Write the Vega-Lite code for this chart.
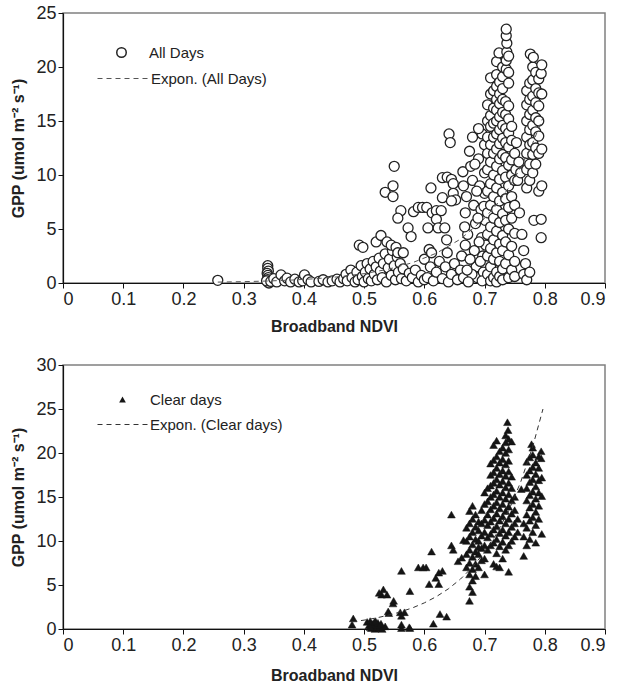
{
"$schema": "https://vega.github.io/schema/vega-lite/v6.json",
"padding": {"left": 10, "top": 3, "right": 0, "bottom": 2},
"config": {
  "font": "Liberation Sans",
  "view": {"stroke": "#808080", "strokeWidth": 1.5},
  "axis": {"grid": false, "domainColor": "#111", "domainWidth": 1.2, "tickColor": "#111", "tickSize": 5, "labelFontSize": 18, "labelColor": "#222", "titleFontSize": 16, "titleFontWeight": "bold", "titleColor": "#222", "labelPadding": 2},
  "legend": {"labelFontSize": 15, "labelColor": "#222", "title": null, "orient": "none", "padding": 0}
},
"datasets": {
  "all": [
{"n":0.257,"g":0.25},{"n":0.34,"g":1.6},{"n":0.34,"g":1.35},{"n":0.341,"g":1.1},{"n":0.339,"g":0.9},{"n":0.34,"g":0.7},{"n":0.341,"g":0.5},{"n":0.34,"g":0.3},{"n":0.34,"g":0.1},{"n":0.342,"g":0},{"n":0.338,"g":0.2},{"n":0.345,"g":0.15},{"n":0.35,"g":0.4},{"n":0.355,"g":0.1},{"n":0.362,"g":0.75},{"n":0.368,"g":0.2},{"n":0.372,"g":0.45},{"n":0.378,"g":0.1},{"n":0.385,"g":0.35},{"n":0.392,"g":0.1},{"n":0.398,"g":0.2},{"n":0.401,"g":0.75},{"n":0.407,"g":0.3},{"n":0.412,"g":0.1},{"n":0.425,"g":0.15},{"n":0.432,"g":0.3},{"n":0.44,"g":0.1},{"n":0.447,"g":0.2},{"n":0.455,"g":0.35},{"n":0.46,"g":0.1},{"n":0.466,"g":0.4},
{"n":0.47,"g":0.8},{"n":0.472,"g":0.2},{"n":0.478,"g":1.2},{"n":0.48,"g":0.5},{"n":0.485,"g":0.1},{"n":0.488,"g":1.0},{"n":0.49,"g":0.3},{"n":0.495,"g":1.6},{"n":0.497,"g":0.6},{"n":0.5,"g":0.1},{"n":0.502,"g":1.0},{"n":0.505,"g":1.8},{"n":0.507,"g":0.4},{"n":0.51,"g":1.3},{"n":0.512,"g":0.2},{"n":0.515,"g":2.0},{"n":0.517,"g":0.8},{"n":0.52,"g":1.5},{"n":0.522,"g":0.3},{"n":0.525,"g":2.3},{"n":0.527,"g":1.1},{"n":0.53,"g":0.5},{"n":0.532,"g":1.8},{"n":0.535,"g":2.7},{"n":0.537,"g":0.1},{"n":0.54,"g":1.4},{"n":0.542,"g":2.2},{"n":0.545,"g":0.7},{"n":0.547,"g":3.0},{"n":0.55,"g":1.6},{"n":0.552,"g":0.3},{"n":0.555,"g":2.4},{"n":0.557,"g":1.0},{"n":0.56,"g":1.8},{"n":0.562,"g":0.4},{"n":0.565,"g":1.3},{"n":0.57,"g":0.2},{"n":0.575,"g":0.9},{"n":0.58,"g":0.5},{"n":0.585,"g":1.2},{"n":0.59,"g":0.1},{"n":0.595,"g":0.7},{"n":0.6,"g":2.2},{"n":0.6,"g":0.3},
{"n":0.492,"g":3.5},{"n":0.498,"g":3.3},{"n":0.52,"g":3.8},{"n":0.528,"g":4.4},{"n":0.538,"g":3.8},{"n":0.545,"g":3.5},{"n":0.553,"g":3.3},{"n":0.556,"g":2.8},{"n":0.565,"g":2.8},{"n":0.55,"g":10.8},{"n":0.548,"g":9.0},{"n":0.535,"g":8.4},{"n":0.548,"g":8.0},{"n":0.561,"g":6.7},{"n":0.556,"g":6.0},{"n":0.573,"g":5.1},{"n":0.578,"g":4.3},{"n":0.582,"g":6.6},{"n":0.59,"g":7.0},{"n":0.597,"g":7.0},{"n":0.604,"g":7.0},{"n":0.611,"g":8.8},{"n":0.613,"g":6.5},{"n":0.62,"g":6.7},{"n":0.628,"g":6.7},{"n":0.62,"g":5.9},{"n":0.606,"g":5.1},{"n":0.623,"g":5.1},{"n":0.634,"g":5.1},{"n":0.637,"g":4.0},{"n":0.608,"g":3.1},{"n":0.638,"g":2.8},{"n":0.63,"g":7.9},{"n":0.63,"g":9.75},{"n":0.638,"g":9.8},{"n":0.645,"g":9.6},{"n":0.648,"g":9.2},{"n":0.648,"g":8.3},{"n":0.652,"g":7.7},{"n":0.645,"g":7.6},{"n":0.664,"g":10.3},{"n":0.641,"g":13.8},{"n":0.643,"g":13.0},
{"n":0.605,"g":0.5},{"n":0.61,"g":1.5},{"n":0.615,"g":0.2},{"n":0.62,"g":1.0},{"n":0.625,"g":2.0},{"n":0.63,"g":0.4},{"n":0.635,"g":1.5},{"n":0.64,"g":0.1},{"n":0.645,"g":0.8},{"n":0.65,"g":1.8},{"n":0.655,"g":0.3},{"n":0.66,"g":1.2},{"n":0.662,"g":2.5},{"n":0.665,"g":0.5},{"n":0.668,"g":3.5},{"n":0.612,"g":2.8},
{"n":0.668,"g":6.5},{"n":0.67,"g":8.0},{"n":0.672,"g":4.5},{"n":0.675,"g":12.2},{"n":0.68,"g":13.5},{"n":0.677,"g":10.8},{"n":0.68,"g":9.5},{"n":0.682,"g":7.2},{"n":0.685,"g":5.5},{"n":0.683,"g":3.0},{"n":0.686,"g":1.5},{"n":0.688,"g":0.5},{"n":0.69,"g":11.5},{"n":0.692,"g":9.0},{"n":0.694,"g":6.8},{"n":0.695,"g":4.2},{"n":0.697,"g":2.5},{"n":0.698,"g":1.0},{"n":0.7,"g":12.8},{"n":0.7,"g":10.2},{"n":0.7,"g":8.3},{"n":0.701,"g":5.8},{"n":0.702,"g":3.5},{"n":0.703,"g":0.3},{"n":0.676,"g":2.2},{"n":0.679,"g":0.8},{"n":0.684,"g":11.0},{"n":0.687,"g":8.5},{"n":0.689,"g":6.0},{"n":0.691,"g":3.8},{"n":0.693,"g":2.0},{"n":0.696,"g":0.2},{"n":0.671,"g":1.2},{"n":0.673,"g":0.1},{"n":0.665,"g":9.0},{"n":0.667,"g":5.2},{"n":0.696,"g":13.8},{"n":0.699,"g":7.1},{"n":0.69,"g":14.3},{"n":0.705,"g":15.0},
{"n":0.705,"g":0.8},{"n":0.705,"g":2.5},{"n":0.705,"g":4.5},{"n":0.705,"g":6.5},{"n":0.705,"g":8.5},{"n":0.705,"g":10.5},{"n":0.705,"g":12.0},{"n":0.705,"g":13.5},{"n":0.705,"g":16.5},
{"n":0.71,"g":0.2},{"n":0.71,"g":1.5},{"n":0.71,"g":3.2},{"n":0.71,"g":5.2},{"n":0.71,"g":7.2},{"n":0.71,"g":9.2},{"n":0.71,"g":11.2},{"n":0.71,"g":12.8},{"n":0.71,"g":14.5},{"n":0.71,"g":15.5},{"n":0.71,"g":17.5},{"n":0.71,"g":19.0},
{"n":0.715,"g":0.5},{"n":0.715,"g":2.2},{"n":0.715,"g":4.0},{"n":0.715,"g":6.0},{"n":0.715,"g":8.0},{"n":0.715,"g":10.0},{"n":0.715,"g":12.0},{"n":0.715,"g":13.5},{"n":0.715,"g":14.8},{"n":0.715,"g":16.2},{"n":0.715,"g":17.8},
{"n":0.72,"g":0.1},{"n":0.72,"g":1.0},{"n":0.72,"g":2.8},{"n":0.72,"g":4.8},{"n":0.72,"g":6.8},{"n":0.72,"g":8.8},{"n":0.72,"g":10.8},{"n":0.72,"g":12.4},{"n":0.72,"g":13.8},{"n":0.72,"g":15.0},{"n":0.72,"g":16.0},{"n":0.72,"g":17.0},{"n":0.72,"g":18.2},{"n":0.72,"g":19.3},{"n":0.72,"g":20.5},{"n":0.724,"g":21.3},
{"n":0.725,"g":0.6},{"n":0.725,"g":2.0},{"n":0.725,"g":3.6},{"n":0.725,"g":5.6},{"n":0.725,"g":7.6},{"n":0.725,"g":9.6},{"n":0.725,"g":11.5},{"n":0.725,"g":12.9},{"n":0.725,"g":14.2},{"n":0.725,"g":15.4},{"n":0.725,"g":16.6},{"n":0.725,"g":17.5},{"n":0.725,"g":18.6},
{"n":0.73,"g":0.3},{"n":0.73,"g":1.3},{"n":0.73,"g":3.0},{"n":0.73,"g":4.4},{"n":0.73,"g":6.4},{"n":0.73,"g":8.4},{"n":0.73,"g":10.4},{"n":0.73,"g":11.9},{"n":0.73,"g":13.4},{"n":0.73,"g":14.6},{"n":0.73,"g":15.8},{"n":0.73,"g":17.0},{"n":0.73,"g":18.0},{"n":0.73,"g":19.1},{"n":0.73,"g":20.0},
{"n":0.735,"g":1.8},{"n":0.735,"g":3.8},{"n":0.735,"g":5.8},{"n":0.735,"g":7.8},{"n":0.735,"g":9.8},{"n":0.735,"g":11.6},{"n":0.735,"g":13.0},{"n":0.735,"g":14.3},{"n":0.735,"g":15.6},{"n":0.735,"g":16.8},{"n":0.736,"g":19.8},{"n":0.736,"g":20.6},{"n":0.737,"g":21.4},{"n":0.737,"g":22.2},{"n":0.736,"g":22.9},{"n":0.736,"g":23.5},
{"n":0.74,"g":0.5},{"n":0.74,"g":2.6},{"n":0.74,"g":5.0},{"n":0.74,"g":7.0},{"n":0.74,"g":9.0},{"n":0.74,"g":10.9},{"n":0.74,"g":12.6},{"n":0.74,"g":13.9},{"n":0.74,"g":15.2},{"n":0.74,"g":16.4},{"n":0.74,"g":18.5},{"n":0.74,"g":19.5},{"n":0.74,"g":21.0},
{"n":0.745,"g":1.2},{"n":0.745,"g":3.4},{"n":0.745,"g":6.0},{"n":0.745,"g":8.0},{"n":0.745,"g":10.0},{"n":0.745,"g":11.4},{"n":0.745,"g":13.2},{"n":0.745,"g":14.5},
{"n":0.75,"g":0.6},{"n":0.75,"g":2.0},{"n":0.75,"g":4.6},{"n":0.75,"g":7.2},{"n":0.75,"g":9.5},{"n":0.75,"g":12.0},
{"n":0.752,"g":10.5},{"n":0.755,"g":9.5},{"n":0.76,"g":10.2},{"n":0.758,"g":6.5},{"n":0.762,"g":4.5},{"n":0.765,"g":3.0},{"n":0.768,"g":1.8},{"n":0.765,"g":0.8},{"n":0.77,"g":0.3},{"n":0.775,"g":1.0},{"n":0.753,"g":13.0},{"n":0.757,"g":11.2},
{"n":0.77,"g":8.8},{"n":0.77,"g":10.5},{"n":0.77,"g":12.0},{"n":0.77,"g":13.5},{"n":0.77,"g":15.0},{"n":0.77,"g":16.5},{"n":0.77,"g":17.8},
{"n":0.775,"g":9.5},{"n":0.775,"g":11.0},{"n":0.775,"g":12.8},{"n":0.775,"g":14.2},{"n":0.775,"g":15.6},{"n":0.775,"g":17.0},{"n":0.775,"g":18.5},{"n":0.776,"g":21.2},
{"n":0.78,"g":10.2},{"n":0.78,"g":11.9},{"n":0.78,"g":13.0},{"n":0.78,"g":14.6},{"n":0.78,"g":16.0},{"n":0.78,"g":17.3},{"n":0.78,"g":18.8},{"n":0.78,"g":20.0},{"n":0.781,"g":20.9},{"n":0.782,"g":5.8},
{"n":0.785,"g":11.0},{"n":0.785,"g":12.5},{"n":0.785,"g":14.0},{"n":0.785,"g":15.3},{"n":0.785,"g":16.7},{"n":0.785,"g":18.0},{"n":0.785,"g":19.5},
{"n":0.79,"g":12.0},{"n":0.79,"g":13.6},{"n":0.79,"g":15.0},{"n":0.79,"g":16.4},{"n":0.79,"g":17.6},{"n":0.79,"g":18.9},{"n":0.79,"g":8.5},
{"n":0.795,"g":9.0},{"n":0.795,"g":12.4},{"n":0.795,"g":17.5},{"n":0.794,"g":19.4},{"n":0.795,"g":20.2},{"n":0.794,"g":5.9},{"n":0.794,"g":4.2}
  ],
  "allfit": [
{"n":0.257,"g":0.083},{"n":0.30,"g":0.125},{"n":0.34,"g":0.184},{"n":0.38,"g":0.271},{"n":0.42,"g":0.399},{"n":0.46,"g":0.587},{"n":0.50,"g":0.865},{"n":0.54,"g":1.273},{"n":0.58,"g":1.875},{"n":0.62,"g":2.759},{"n":0.66,"g":4.061},{"n":0.70,"g":5.981},{"n":0.72,"g":7.26},{"n":0.74,"g":8.80},{"n":0.76,"g":10.68},{"n":0.78,"g":12.96},{"n":0.797,"g":15.3}
  ],
  "clear": [
{"n":0.482,"g":1.2},{"n":0.48,"g":0.5},{"n":0.505,"g":0.8},{"n":0.508,"g":0.4},{"n":0.51,"g":0.9},{"n":0.512,"g":0.1},{"n":0.513,"g":0.6},{"n":0.515,"g":0.3},{"n":0.517,"g":0.8},{"n":0.518,"g":0.0},{"n":0.52,"g":0.5},{"n":0.522,"g":0.2},{"n":0.523,"g":0.7},{"n":0.525,"g":0.1},{"n":0.527,"g":0.4},{"n":0.53,"g":0.0},{"n":0.51,"g":0.2},{"n":0.519,"g":0.9},{"n":0.528,"g":0.6},{"n":0.535,"g":0.3},{"n":0.532,"g":4.5},{"n":0.529,"g":3.9},{"n":0.538,"g":3.9},{"n":0.525,"g":4.1},{"n":0.548,"g":2.9},{"n":0.541,"g":1.8},{"n":0.549,"g":3.2},{"n":0.54,"g":2.0},{"n":0.56,"g":1.9},{"n":0.567,"g":1.9},{"n":0.562,"g":1.5},{"n":0.562,"g":6.6},{"n":0.576,"g":4.3},{"n":0.576,"g":0.1},{"n":0.562,"g":0.1},{"n":0.562,"g":0.5},{"n":0.575,"g":0.2},{"n":0.59,"g":7.0},{"n":0.598,"g":7.0},{"n":0.603,"g":7.0},{"n":0.612,"g":8.8},{"n":0.608,"g":5.1},{"n":0.624,"g":5.1},{"n":0.619,"g":5.8},{"n":0.624,"g":6.4},{"n":0.63,"g":6.6},{"n":0.626,"g":1.7},{"n":0.637,"g":1.4},{"n":0.615,"g":0.6},{"n":0.645,"g":13.0},{"n":0.645,"g":9.5},{"n":0.648,"g":9.0},{"n":0.665,"g":10.1},{"n":0.656,"g":7.7},{"n":0.662,"g":8.1},
{"n":0.67,"g":7.0},{"n":0.67,"g":8.5},{"n":0.67,"g":10.0},{"n":0.67,"g":11.5},
{"n":0.675,"g":3.2},{"n":0.675,"g":4.8},{"n":0.675,"g":6.2},{"n":0.675,"g":7.5},{"n":0.675,"g":9.0},{"n":0.675,"g":10.5},{"n":0.675,"g":12.0},{"n":0.675,"g":13.4},
{"n":0.68,"g":4.2},{"n":0.68,"g":5.5},{"n":0.68,"g":6.8},{"n":0.68,"g":8.2},{"n":0.68,"g":9.6},{"n":0.68,"g":11.0},{"n":0.68,"g":12.5},{"n":0.68,"g":14.0},
{"n":0.685,"g":6.0},{"n":0.685,"g":7.4},{"n":0.685,"g":8.8},{"n":0.685,"g":10.2},{"n":0.685,"g":11.6},{"n":0.685,"g":13.0},
{"n":0.69,"g":7.0},{"n":0.69,"g":8.5},{"n":0.69,"g":10.0},{"n":0.69,"g":11.2},{"n":0.69,"g":12.2},{"n":0.69,"g":9.3},
{"n":0.695,"g":7.8},{"n":0.695,"g":9.2},{"n":0.695,"g":10.6},{"n":0.695,"g":12.0},{"n":0.695,"g":13.5},
{"n":0.70,"g":6.2},{"n":0.70,"g":8.0},{"n":0.70,"g":9.5},{"n":0.70,"g":11.0},{"n":0.70,"g":12.4},{"n":0.70,"g":14.2},{"n":0.70,"g":15.5},
{"n":0.705,"g":9.0},{"n":0.705,"g":10.4},{"n":0.705,"g":11.8},{"n":0.705,"g":13.0},{"n":0.705,"g":14.5},{"n":0.705,"g":16.0},
{"n":0.71,"g":9.5},{"n":0.71,"g":10.8},{"n":0.71,"g":12.2},{"n":0.71,"g":13.6},{"n":0.71,"g":15.0},{"n":0.71,"g":16.3},{"n":0.71,"g":17.5},{"n":0.71,"g":18.8},
{"n":0.715,"g":7.4},{"n":0.715,"g":9.8},{"n":0.715,"g":11.3},{"n":0.715,"g":12.6},{"n":0.715,"g":14.0},{"n":0.715,"g":15.3},{"n":0.715,"g":16.6},{"n":0.715,"g":17.8},{"n":0.715,"g":19.2},{"n":0.715,"g":20.9},
{"n":0.72,"g":7.1},{"n":0.72,"g":8.6},{"n":0.72,"g":10.2},{"n":0.72,"g":11.7},{"n":0.72,"g":13.1},{"n":0.72,"g":14.4},{"n":0.72,"g":15.7},{"n":0.72,"g":17.0},{"n":0.72,"g":18.3},{"n":0.72,"g":19.6},{"n":0.72,"g":21.4},
{"n":0.725,"g":7.0},{"n":0.725,"g":9.4},{"n":0.725,"g":10.9},{"n":0.725,"g":12.3},{"n":0.725,"g":13.7},{"n":0.725,"g":15.0},{"n":0.725,"g":16.4},{"n":0.725,"g":17.6},{"n":0.725,"g":18.9},{"n":0.725,"g":20.2},
{"n":0.73,"g":8.0},{"n":0.73,"g":9.9},{"n":0.73,"g":11.3},{"n":0.73,"g":12.8},{"n":0.73,"g":14.2},{"n":0.73,"g":15.5},{"n":0.73,"g":16.8},{"n":0.73,"g":18.0},{"n":0.73,"g":19.3},{"n":0.73,"g":20.6},
{"n":0.735,"g":9.0},{"n":0.735,"g":10.6},{"n":0.735,"g":12.0},{"n":0.735,"g":13.4},{"n":0.735,"g":14.8},{"n":0.735,"g":16.1},{"n":0.735,"g":17.4},{"n":0.735,"g":18.7},{"n":0.735,"g":20.0},{"n":0.735,"g":21.2},{"n":0.735,"g":22.0},
{"n":0.738,"g":23.5},{"n":0.739,"g":22.6},{"n":0.74,"g":21.6},
{"n":0.74,"g":6.5},{"n":0.74,"g":9.5},{"n":0.74,"g":11.0},{"n":0.74,"g":12.5},{"n":0.74,"g":13.9},{"n":0.74,"g":15.3},{"n":0.74,"g":16.6},{"n":0.74,"g":17.9},{"n":0.74,"g":19.1},{"n":0.74,"g":20.4},
{"n":0.745,"g":10.0},{"n":0.745,"g":11.6},{"n":0.745,"g":13.1},{"n":0.745,"g":14.6},{"n":0.745,"g":16.0},{"n":0.745,"g":17.3},{"n":0.745,"g":21.3},
{"n":0.75,"g":10.5},{"n":0.75,"g":12.0},{"n":0.75,"g":13.5},{"n":0.75,"g":15.0},{"n":0.755,"g":11.0},{"n":0.755,"g":12.5},{"n":0.761,"g":15.9},
{"n":0.765,"g":8.3},{"n":0.765,"g":10.5},{"n":0.765,"g":12.0},
{"n":0.77,"g":9.5},{"n":0.77,"g":11.5},{"n":0.77,"g":13.0},{"n":0.77,"g":14.6},{"n":0.77,"g":16.0},{"n":0.77,"g":17.5},{"n":0.77,"g":19.0},
{"n":0.775,"g":10.2},{"n":0.775,"g":12.3},{"n":0.775,"g":13.8},{"n":0.775,"g":15.2},{"n":0.775,"g":16.7},{"n":0.775,"g":18.0},{"n":0.775,"g":19.5},{"n":0.778,"g":21.0},
{"n":0.78,"g":11.0},{"n":0.78,"g":12.7},{"n":0.78,"g":14.2},{"n":0.78,"g":15.6},{"n":0.78,"g":17.0},{"n":0.78,"g":18.4},{"n":0.78,"g":19.8},{"n":0.78,"g":20.6},
{"n":0.785,"g":9.8},{"n":0.785,"g":11.8},{"n":0.785,"g":13.3},{"n":0.785,"g":14.8},{"n":0.785,"g":16.2},{"n":0.785,"g":17.6},{"n":0.785,"g":18.9},
{"n":0.79,"g":12.5},{"n":0.79,"g":14.0},{"n":0.79,"g":15.5},{"n":0.79,"g":16.9},{"n":0.79,"g":18.3},{"n":0.79,"g":19.6},
{"n":0.795,"g":10.8},{"n":0.795,"g":15.1},{"n":0.795,"g":17.2},{"n":0.794,"g":19.4},{"n":0.794,"g":20.2}
  ],
  "clearfit": [
{"n":0.48,"g":0.81},{"n":0.50,"g":1.01},{"n":0.52,"g":1.25},{"n":0.55,"g":1.73},{"n":0.58,"g":2.39},{"n":0.60,"g":2.97},{"n":0.62,"g":3.68},{"n":0.64,"g":4.57},{"n":0.66,"g":5.67},{"n":0.68,"g":7.04},{"n":0.70,"g":8.74},{"n":0.72,"g":10.84},{"n":0.74,"g":13.45},{"n":0.76,"g":16.70},{"n":0.78,"g":20.73},{"n":0.797,"g":25.0}
  ]
},
"spacing": 20,
"resolve": {"scale": {"shape": "independent", "strokeDash": "independent"}, "legend": {"shape": "independent", "strokeDash": "independent"}},
"vconcat": [
  {
    "width": 542, "height": 270,
    "layer": [
      {
        "data": {"name": "all"},
        "mark": {"type": "point", "filled": false, "fill": "white", "fillOpacity": 1, "stroke": "#222", "strokeWidth": 1.3, "size": 100, "opacity": 1},
        "encoding": {
          "x": {"field": "n", "type": "quantitative", "scale": {"domain": [0, 0.9], "nice": false}, "axis": {"title": "Broadband NDVI", "values": [0,0.1,0.2,0.3,0.4,0.5,0.6,0.7,0.8,0.9], "format": "~g", "titlePadding": 10}},
          "y": {"field": "g", "type": "quantitative", "scale": {"domain": [0, 25], "nice": false}, "axis": {"title": "GPP (umol m⁻² s⁻¹)", "values": [0,5,10,15,20,25], "titlePadding": 9}},
          "shape": {"datum": "All Days", "type": "nominal", "scale": {"range": ["circle"]}, "legend": {"legendX": 51, "legendY": 32, "symbolSize": 90, "labelOffset": 20, "encode": {"symbols": {"update": {"fill": {"value": "white"}, "stroke": {"value": "#222"}, "strokeWidth": {"value": 1.3}, "opacity": {"value": 1}}}}}}
        }
      },
      {
        "data": {"name": "allfit"},
        "mark": {"type": "line", "stroke": "#555", "strokeWidth": 1},
        "encoding": {
          "x": {"field": "n", "type": "quantitative"},
          "y": {"field": "g", "type": "quantitative"},
          "strokeDash": {"datum": "Expon. (All Days)", "type": "nominal", "scale": {"range": [[5, 4]]}, "legend": {"legendX": 34, "legendY": 40, "symbolSize": 2500, "symbolStrokeColor": "#555", "symbolStrokeWidth": 1, "labelOffset": 3}}
        }
      }
    ]
  },
  {
    "width": 542, "height": 264,
    "layer": [
      {
        "data": {"name": "clear"},
        "mark": {"type": "point", "shape": "triangle-up", "filled": true, "fill": "#151515", "stroke": "#151515", "strokeWidth": 0.5, "size": 60, "opacity": 1},
        "encoding": {
          "x": {"field": "n", "type": "quantitative", "scale": {"domain": [0, 0.9], "nice": false}, "axis": {"title": "Broadband NDVI", "values": [0,0.1,0.2,0.3,0.4,0.5,0.6,0.7,0.8,0.9], "format": "~g", "titlePadding": 13}},
          "y": {"field": "g", "type": "quantitative", "scale": {"domain": [0, 30], "nice": false}, "axis": {"title": "GPP (umol m⁻² s⁻¹)", "values": [0,5,10,15,20,25,30], "titlePadding": 9}},
          "shape": {"datum": "Clear days", "type": "nominal", "scale": {"range": ["triangle-up"]}, "legend": {"legendX": 52, "legendY": 27, "symbolFillColor": "#151515", "symbolStrokeColor": "#151515", "symbolSize": 45, "labelOffset": 20}}
        }
      },
      {
        "data": {"name": "clearfit"},
        "mark": {"type": "line", "stroke": "#333", "strokeWidth": 1},
        "encoding": {
          "x": {"field": "n", "type": "quantitative"},
          "y": {"field": "g", "type": "quantitative"},
          "strokeDash": {"datum": "Expon. (Clear days)", "type": "nominal", "scale": {"range": [[5, 4]]}, "legend": {"legendX": 34, "legendY": 34, "symbolSize": 2500, "symbolStrokeColor": "#333", "symbolStrokeWidth": 1, "labelOffset": 2}}
        }
      }
    ]
  }
]
}
